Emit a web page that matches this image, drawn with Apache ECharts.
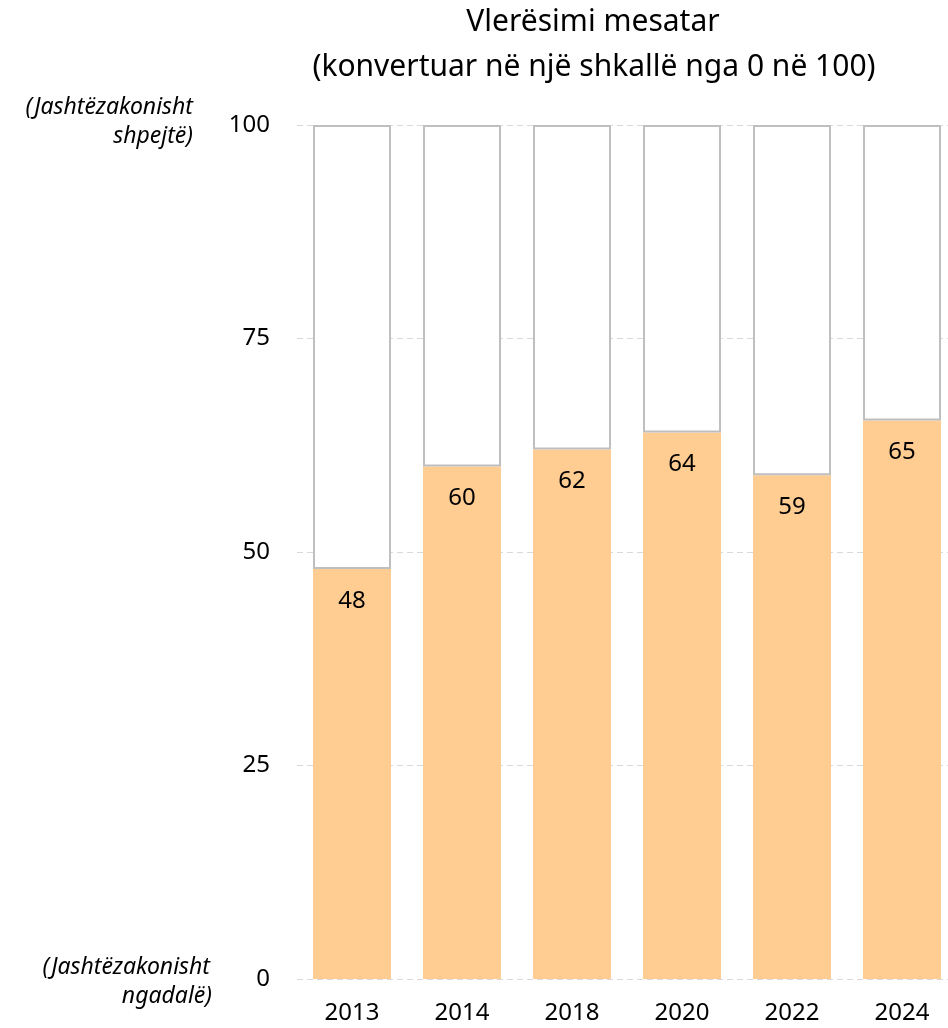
<!DOCTYPE html>
<html lang="sq">
<head>
    <meta charset="UTF-8">
    <title>Vlerësimi mesatar</title>
    <script src="https://cdn.jsdelivr.net/npm/echarts@6/dist/echarts.min.js"></script>
    <style>
        html, body { margin: 0; padding: 0; background: #fff; overflow: hidden; }
        #chart { width: 960px; height: 1028px; }
    </style>
</head>
<body>
    <div id="chart"></div>
    <script>
        const years = ['2013', '2014', '2018', '2020', '2022', '2024'];
        const scores = [48, 60, 62, 64, 59, 65.4];
        const yTicks = [0, 25, 50, 75, 100];

        const rest = scores.map(v => 100 - v);
        const font = '"Noto Sans", sans-serif';
        const side = (text, x, y) => ({
            type: 'text', x: x, y: y,
            style: { text: text, fontSize: 23, fontStyle: 'italic', fontFamily: font, fill: '#000', textAlign: 'right', textVerticalAlign: 'middle' }
        });

        const chart = echarts.init(document.getElementById('chart'));
        chart.setOption({
            animation: false,
            textStyle: { fontFamily: font },
            graphic: [
                { type: 'text', x: 593, y: 22, style: { text: 'Vlerësimi mesatar', fontSize: 30, fontFamily: font, fill: '#000', textAlign: 'center', textVerticalAlign: 'middle' } },
                { type: 'text', x: 594, y: 67, style: { text: '(konvertuar në një shkallë nga 0 në 100)', fontSize: 30, fontFamily: font, fill: '#000', textAlign: 'center', textVerticalAlign: 'middle' } },
                side('(Jashtëzakonisht', 193, 107),
                side('shpejtë)', 193, 136),
                side('(Jashtëzakonisht', 210, 967),
                side('ngadalë)', 212, 996)
            ],
            grid: { left: 297, top: 125, width: 660, height: 854 },
            xAxis: {
                type: 'category',
                data: years,
                axisLine: { show: false },
                axisTick: { show: false },
                axisLabel: { fontSize: 24, color: '#000', margin: 22 }
            },
            yAxis: {
                type: 'value',
                min: yTicks[0],
                max: yTicks[yTicks.length - 1],
                interval: 25,
                axisLine: { show: false },
                axisTick: { show: false },
                axisLabel: { fontSize: 24, color: '#000', margin: 27 },
                splitLine: { lineStyle: { color: '#d9d9d9', type: [6, 4], width: 1 } }
            },
            series: [
                {
                    type: 'bar',
                    stack: 'a',
                    data: scores,
                    barWidth: 78,
                    itemStyle: { color: '#ffcc92' },
                    label: {
                        show: true,
                        position: 'insideTop',
                        distance: 20,
                        fontSize: 24,
                        color: '#000',
                        formatter: p => Math.round(p.value)
                    }
                },
                {
                    type: 'bar',
                    stack: 'a',
                    data: rest,
                    barWidth: 78,
                    itemStyle: { color: '#fff', borderColor: '#bfbfbf', borderWidth: 2 }
                }
            ]
        });
    </script>
</body>
</html>
